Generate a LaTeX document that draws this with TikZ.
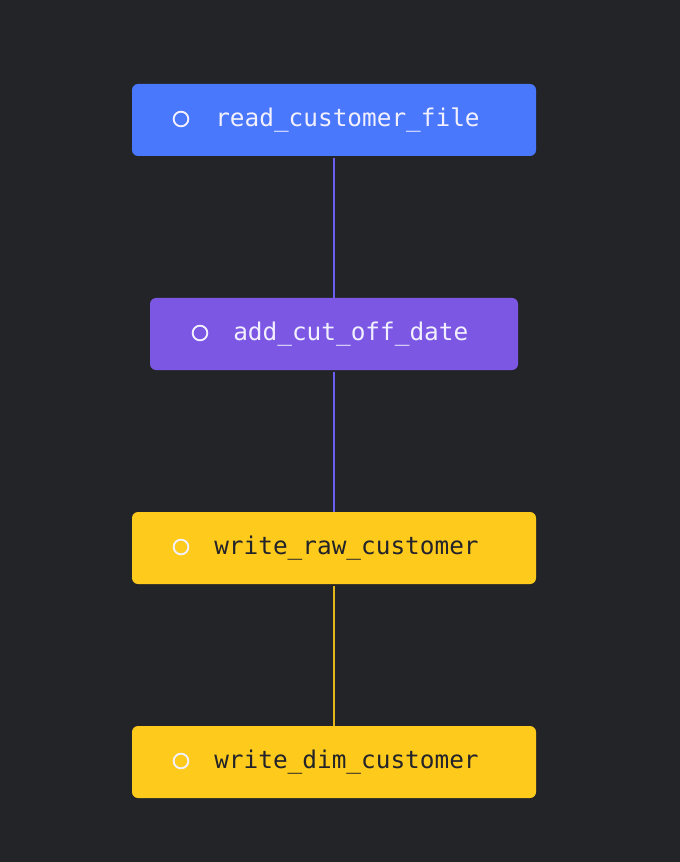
\documentclass[tikz,border=0pt]{standalone}
\usepackage{fontspec}
\setmonofont{DejaVu Sans Mono}
\definecolor{bg}{HTML}{232428}
\definecolor{cblue}{HTML}{4A78FC}
\definecolor{cpurple}{HTML}{7B57E4}
\definecolor{cyellow}{HTML}{FECB1C}
\definecolor{lighttxt}{HTML}{F2F0FF}
\definecolor{darktxt}{HTML}{23232A}
\definecolor{line1}{HTML}{6A5EF2}
\begin{document}
\begin{tikzpicture}[x=0.75pt,y=-0.75pt,
  taskbox/.style={rounded corners=4.5pt, inner sep=0pt, minimum height=54pt},
  lbl/.style={anchor=west, inner sep=0pt, font=\fontsize{18.3}{21}\selectfont\ttfamily},
  dot/.style={circle, draw=lighttxt, line width=1.4pt, minimum size=11pt, inner sep=0pt},
  conn/.style={line width=1.6pt}]
\fill[bg] (0,0) rectangle (680,862);
\useasboundingbox (0,0) rectangle (680,862);
\node[taskbox, fill=cblue, minimum width=303pt] (b1) at (334,120) {};
\node[taskbox, fill=cpurple, minimum width=276pt] (b2) at (334,334) {};
\node[taskbox, fill=cyellow, minimum width=303pt] (b3) at (334,548) {};
\node[taskbox, fill=cyellow, minimum width=303pt] (b4) at (334,762) {};
\node[dot] (d1) at (181,119) {};
\node[dot] (d2) at (200,333) {};
\node[dot] (d3) at (181,547) {};
\node[dot] (d4) at (181,761) {};
\node[lbl, text=lighttxt] (t1) at (215,120) {read\_customer\_file};
\node[lbl, text=lighttxt] (t2) at (233,334) {add\_cut\_off\_date};
\node[lbl, text=darktxt] (t3) at (214,548) {write\_raw\_customer};
\node[lbl, text=darktxt] (t4) at (214,762) {write\_dim\_customer};
\draw[conn, line1] ([yshift=-1.5pt]b1.south) -- (b2.north);
\draw[conn, line1] ([yshift=-1.5pt]b2.south) -- (b3.north);
\draw[conn, cyellow!90!black] ([yshift=-1.5pt]b3.south) -- (b4.north);
\end{tikzpicture}
\end{document}
